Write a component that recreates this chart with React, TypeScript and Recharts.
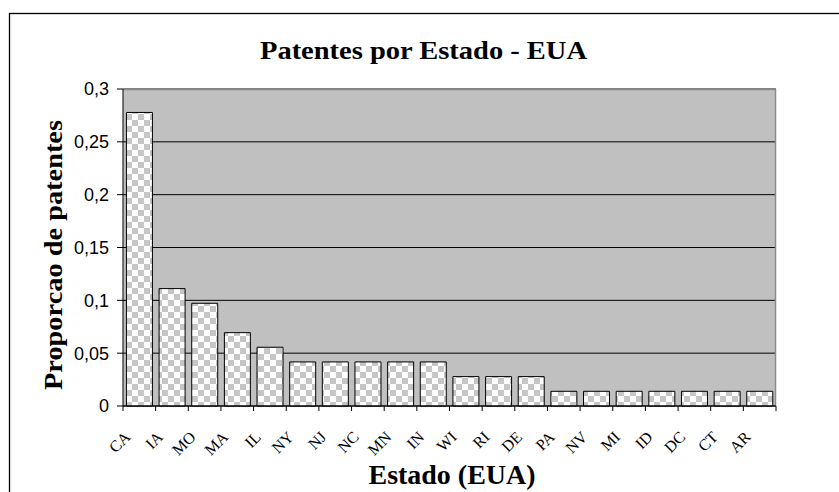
import React from 'react';
import { BarChart, Bar, XAxis, YAxis, CartesianGrid, Customized } from 'recharts';

const states = ['CA', 'IA', 'MO', 'MA', 'IL', 'NY', 'NJ', 'NC', 'MN', 'IN', 'WI', 'RI', 'DE', 'PA', 'NV', 'MI', 'ID', 'DC', 'CT', 'AR'];
const shares = [0.2778, 0.1111, 0.0972, 0.0694, 0.0556, 0.0417, 0.0417, 0.0417, 0.0417, 0.0417, 0.0278, 0.0278, 0.0278, 0.0139, 0.0139, 0.0139, 0.0139, 0.0139, 0.0139, 0.0139];
const yTicks = [0, 0.05, 0.1, 0.15, 0.2, 0.25, 0.3];
const title = 'Patentes por Estado - EUA';
const yTitle = 'Proporcao de patentes';
const xTitle = 'Estado (EUA)';

const data = states.map((s, i) => ({ state: s, value: shares[i] }));

const W = 839;
const H = 492;
const M = { top: 89, right: 63, left: 63, bottom: 0 };
const Y_AXIS_W = 60;
const X_AXIS_H = 86;
const PLOT_L = M.left + Y_AXIS_W;
const PLOT_R = W - M.right;
const PLOT_T = M.top;
const PLOT_B = H - X_AXIS_H;
const BAND = (PLOT_R - PLOT_L) / states.length;

const serif = '"Liberation Serif", "Times New Roman", serif';
const sans = '"Liberation Sans", Arial, sans-serif';

const StateTick = (props: any) => {
  const { x, payload, index } = props;
  const ax = x - 8;
  const ay = PLOT_B + 32;
  return (
    <g>
      <line x1={x - BAND / 2} y1={PLOT_B} x2={x - BAND / 2} y2={PLOT_B + 5} stroke="#000" strokeWidth={1} />
      {index === states.length - 1 && (
        <line x1={x + BAND / 2} y1={PLOT_B} x2={x + BAND / 2} y2={PLOT_B + 5} stroke="#000" strokeWidth={1} />
      )}
      <text
        x={ax}
        y={ay}
        transform={`rotate(-45, ${ax}, ${ay})`}
        textAnchor="end"
        style={{ fontFamily: serif, fontSize: 16 }}
        fill="#000"
      >
        {payload.value}
      </text>
    </g>
  );
};

const Decorations = () => (
  <g>
    <line x1={PLOT_L} y1={PLOT_T + 0.5} x2={PLOT_R} y2={PLOT_T + 0.5} stroke="#8a8a8a" strokeWidth={1.5} />
    <line x1={PLOT_R - 0.5} y1={PLOT_T} x2={PLOT_R - 0.5} y2={PLOT_B} stroke="#8a8a8a" strokeWidth={1.5} />
    <rect x={9.5} y={13.5} width={1000} height={1000} fill="none" stroke="#000" strokeWidth={1.3} />
    <text
      x={423.5}
      y={59}
      textAnchor="middle"
      fontFamily={serif}
      fontWeight="bold"
      fontSize={25}
      textLength={327}
      lengthAdjust="spacingAndGlyphs"
      fill="#000"
    >
      {title}
    </text>
    <text
      x={452}
      y={484}
      textAnchor="middle"
      fontFamily={serif}
      fontWeight="bold"
      fontSize={28}
      textLength={167}
      lengthAdjust="spacingAndGlyphs"
      fill="#000"
    >
      {xTitle}
    </text>
    <text
      x={62}
      y={255}
      transform="rotate(-90, 62, 255)"
      textAnchor="middle"
      fontFamily={serif}
      fontWeight="bold"
      fontSize={26}
      textLength={270}
      lengthAdjust="spacingAndGlyphs"
      fill="#000"
    >
      {yTitle}
    </text>
  </g>
);

export default function App() {
  return (
    <div style={{ position: 'absolute', left: 0, top: 0, width: W, height: H, overflow: 'hidden', background: '#fff' }}>
      <BarChart width={W} height={H} data={data} margin={M} barCategoryGap="10.5%">
        <defs>
          <pattern id="checker" width={12} height={12} patternUnits="userSpaceOnUse">
            <rect x={0} y={0} width={12} height={12} fill="#ffffff" />
            <rect x={0} y={0} width={6} height={6} fill="#c6c6c6" />
            <rect x={6} y={6} width={6} height={6} fill="#c6c6c6" />
          </pattern>
        </defs>
        <CartesianGrid vertical={false} stroke="#000" strokeWidth={1} fill="#c0c0c0" fillOpacity={1} />
        <XAxis
          dataKey="state"
          height={X_AXIS_H}
          interval={0}
          tickLine={false}
          tickSize={0}
          tickMargin={0}
          axisLine={{ stroke: '#000', strokeWidth: 1 }}
          tick={<StateTick />}
        />
        <YAxis
          width={Y_AXIS_W}
          domain={[0, 0.3]}
          ticks={yTicks}
          interval={0}
          tickSize={6}
          tickMargin={8}
          tickLine={{ stroke: '#000' }}
          axisLine={{ stroke: '#000', strokeWidth: 1 }}
          tickFormatter={(v: number) => String(v).replace('.', ',')}
          tick={{ fill: '#000', fontFamily: sans, fontSize: 18 }}
        />
        <Bar dataKey="value" fill="url(#checker)" stroke="#000" strokeWidth={1} isAnimationActive={false} />
        <Customized component={Decorations} />
      </BarChart>
    </div>
  );
}
